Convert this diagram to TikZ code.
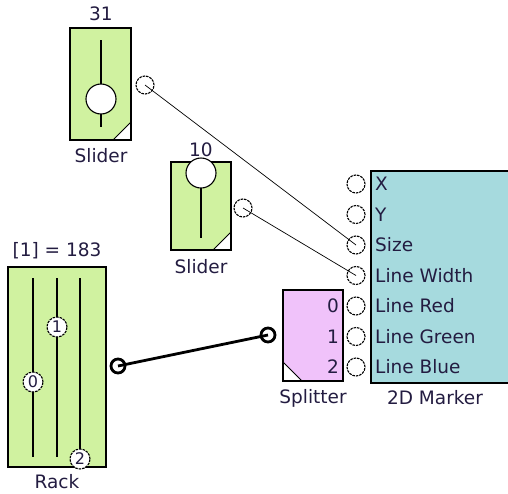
\documentclass[tikz,border=0pt]{standalone}
\usepackage{fontspec}
\setmainfont{DejaVu Sans}
\definecolor{sgreen}{RGB}{208,242,160}
\definecolor{spink}{RGB}{240,194,250}
\definecolor{steal}{RGB}{166,218,222}
\definecolor{txt}{RGB}{35,28,65}
\tikzset{
  blockbox/.style={draw=black, line width=1.2pt},
  lbl/.style={text=txt, font=\fontsize{18.5}{18.5}\selectfont, inner sep=0pt},
  knob/.style={circle, draw=black, fill=white, line width=1.1pt, inner sep=0pt, minimum size=30pt},
  small knob/.style={circle, draw=black, dash pattern=on 2.5pt off 1pt, line width=1.1pt, fill=white, inner sep=0pt, minimum size=20pt, font=\fontsize{16}{16}\selectfont, text=txt},
  port/.style={circle, draw=black, dash pattern=on 2.5pt off 1pt, line width=1.1pt, fill=white, inner sep=0pt, minimum size=18pt},
  bport/.style={circle, draw=black, line width=2.8pt, fill=white, inner sep=0pt, minimum size=14pt},
  wire/.style={draw=black, line width=0.7pt},
  bwire/.style={draw=black, line width=2.8pt},
  track/.style={draw=black, line width=1.2pt},
}
\begin{document}
\begin{tikzpicture}[x=1pt,y=-1pt]
\useasboundingbox (0,0) rectangle (508,493);
% ---- Slider 1
\path[fill=sgreen] (70,28) rectangle (131,140);
\fill[white] (113,140) -- (131,122) -- (131,140) -- cycle;
\draw[line width=0.8pt] (113,140) -- (131,122);
\draw[blockbox] (70,28) rectangle (131,140);
\draw[track] (101,40) -- (101,127);
\node[knob] (k1) at (101,99) {};
\node[lbl] (v1) at (101,14) {31};
\node[lbl] (n1) at (101,156) {Slider};
\node[port] (p1) at (145,85) {};
% ---- Slider 2
\path[fill=sgreen] (171,162) rectangle (231,250);
\fill[white] (213,250) -- (231,232) -- (231,250) -- cycle;
\draw[line width=0.8pt] (213,250) -- (231,232);
\draw[blockbox] (171,162) rectangle (231,250);
\draw[track] (201,173) -- (201,238);
\node[lbl] (v2) at (201,150) {10};
\node[knob] (k2) at (201,173) {};
\node[lbl] (n2) at (201,267) {Slider};
\node[port] (p2) at (243,208) {};
% ---- Rack
\path[fill=sgreen] (8,267) rectangle (106,467);
\draw[blockbox] (8,267) rectangle (106,467);
\draw[track] (33,278) -- (33,457);
\draw[track] (57,278) -- (57,457);
\draw[track] (80,278) -- (80,457);
\node[small knob] (r1) at (57,327) {1};
\node[small knob] (r0) at (33,382) {0};
\node[small knob] (r2) at (80,459) {2};
\node[lbl] (vr) at (57,251) {[1] = 183};
\node[lbl] (nr) at (57,482) {Rack};
\node[bport] (pr) at (118,366) {};
% ---- Splitter
\path[fill=spink] (283,290) rectangle (343,381);
\fill[white] (283,362) -- (302,381) -- (283,381) -- cycle;
\draw[line width=0.8pt] (283,362) -- (302,381);
\draw[blockbox] (283,290) rectangle (343,381);
\node[lbl, anchor=east] (s0) at (339,306) {0};
\node[lbl, anchor=east] (s1) at (339,337) {1};
\node[lbl, anchor=east] (s2) at (339,367) {2};
\node[lbl] (ns) at (313,398) {Splitter};
\node[bport] (ps) at (268,335) {};
% ---- 2D Marker
\path[fill=steal] (371,171) rectangle (512,383);
\draw[blockbox] (512,171) -- (371,171) -- (371,383) -- (512,383);
\node[lbl] (nm) at (435,398) {2D Marker};
\foreach \name/\t [count=\i from 0] in {mx/X,my/Y,msz/Size,mlw/Line Width,mlr/Line Red,mlg/Line Green,mlb/Line Blue}{
  \node[lbl, anchor=west] (\name t) at (375,{184+30.5*\i}) {\t};
  \node[port] (\name) at (356,{184+30.5*\i}) {};
}
% ---- wires
\draw[wire] (p1.center) -- (msz.center);
\draw[wire] (p2.center) -- (mlw.center);
\draw[bwire] (pr.center) -- (ps.center);
\end{tikzpicture}
\end{document}
